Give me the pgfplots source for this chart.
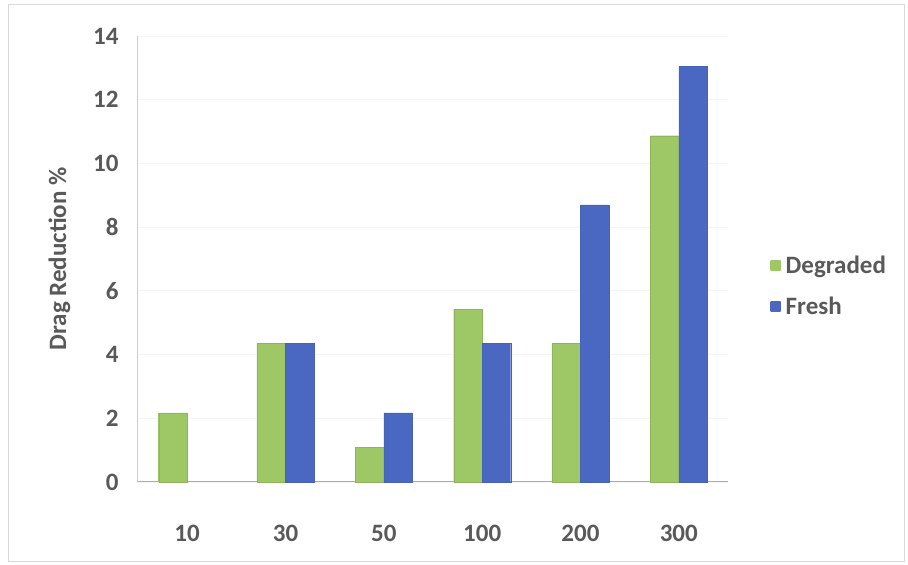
\documentclass[border=0pt]{standalone}
\usepackage{fontspec}
\setmainfont{Carlito}
\usepackage{pgfplots}
\pgfplotsset{compat=1.18}

\definecolor{txtgray}{HTML}{595959}
\definecolor{degr}{HTML}{A8D46C}
\definecolor{fresh}{HTML}{5274D8}
\definecolor{framegray}{HTML}{D9D9D9}

\begin{document}
\begin{tikzpicture}
\begin{axis}[
  scale only axis,
  width=590pt, height=446pt,
  xmin=-0.5, xmax=5.5,
  ymin=0, ymax=14,
  ytick={0,2,...,14},
  xtick={0,1,2,3,4,5},
  xticklabels={10,30,50,100,200,300},
  major tick length=0pt,
  ybar=0pt,
  bar width=28.5pt,
  axis x line*=bottom,
  axis y line*=left,
  x axis line style={draw=gray!60!blue!50, line width=1pt},
  y axis line style={draw=gray!40, line width=1pt},
  ymajorgrids,
  grid style={draw=gray!8, line width=0.8pt},
  /pgf/number format/assume math mode=true,
  font=\fontsize{25}{29}\selectfont\bfseries,
  tick label style={text=txtgray},
  xticklabel style={yshift=-40pt},
  yticklabel style={xshift=-16pt},
  ylabel={Drag Reduction \%},
  ylabel style={text=txtgray, font=\fontsize{25}{29}\selectfont\bfseries, yshift=16pt},
  legend style={draw=none, fill=none, at={(rel axis cs:1.072,0.44)}, anchor=west,
    text=txtgray, font=\fontsize{25}{29}\selectfont\bfseries,
    row sep=22pt, column sep=5pt, inner sep=0pt,
    nodes={inner sep=0pt}},
  legend image code/.code={\draw[#1, draw=none] (0pt,-5pt) rectangle (10pt,5pt);},
  legend cell align=left,
  clip=false,
]
\addplot[draw=degr!85!black, line width=0.3pt,
  left color=degr!94!black, middle color=degr!88!white, right color=degr!94!black]
  coordinates {(0,2.17) (1,4.35) (2,1.09) (3,5.43) (4,4.35) (5,10.87)};
\addlegendentry{Degraded}
\addplot[draw=fresh!85!black, line width=0.3pt,
  left color=fresh!90!black, middle color=fresh!90!white, right color=fresh!90!black]
  coordinates {(1,4.35) (2,2.17) (3,4.35) (4,8.70) (5,13.04)};
\addlegendentry{Fresh}

% chart frame and page extent
\path (rel axis cs:-0.2339,-0.1861) rectangle (rel axis cs:1.3051,1.0807);
\draw[framegray, line width=1pt] (rel axis cs:-0.2203,-0.179) rectangle (rel axis cs:1.30,1.0695);
\end{axis}
\end{tikzpicture}
\end{document}
